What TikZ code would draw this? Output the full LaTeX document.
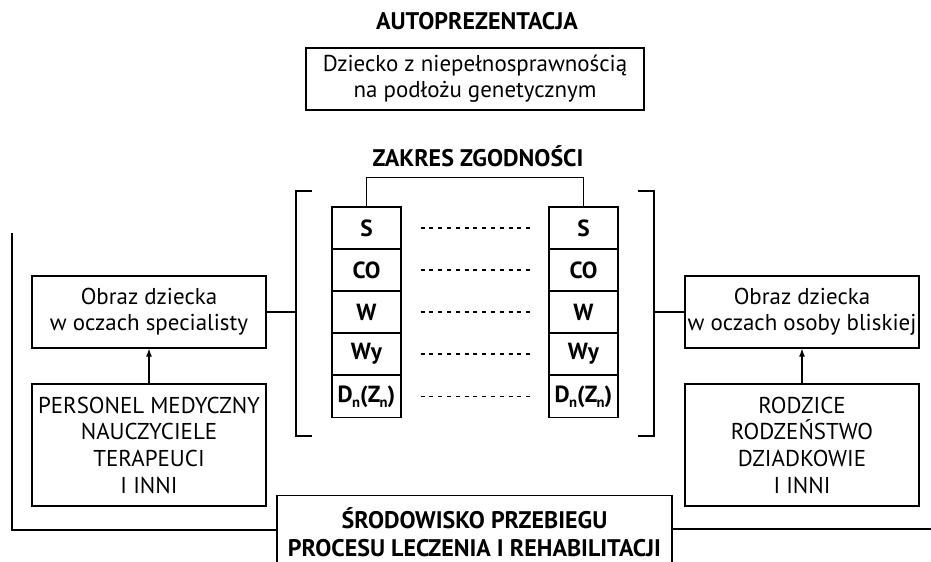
\documentclass[tikz,border=0pt]{standalone}
\usepackage{fontspec}
\setmainfont{PT Sans}
\usetikzlibrary{arrows.meta,calc}
\newcommand{\subn}{\raisebox{-0.45ex}{\fontsize{11pt}{11pt}\selectfont n}}
\begin{document}
\begin{tikzpicture}[x=0.75pt,y=-0.75pt,
  every node/.style={font=\fontsize{17.2pt}{19.6pt}\selectfont, inner sep=0pt, align=center},
  box/.style={draw, line width=0.9pt},
  cell/.style={draw, line width=0.9pt, minimum width=51.75pt, minimum height=31.5pt, font=\fontsize{17.5pt}{20pt}\selectfont\bfseries},
  title/.style={font=\fontsize{18pt}{21pt}\selectfont\bfseries},
  ln/.style={line width=0.9pt},
  dl/.style={line width=0.8pt, dash pattern=on 3pt off 3.6pt, shorten <=14.25pt, shorten >=10.5pt},
  arr/.style={line width=0.9pt, -{Latex[length=6pt,width=4.5pt]}}
]
\useasboundingbox (0,0) rectangle (931,561);
\clip (0,0) rectangle (931,561);

\node[title] (auto) at (477,21) {AUTOPREZENTACJA};
\node[box, minimum width=253.5pt, minimum height=46.5pt] (child) at (475,79) {Dziecko z niepełnosprawnością\\na podłożu genetycznym};
\node[title] (zakres) at (478,156) {ZAKRES ZGODNOŚCI};

% columns
\foreach \i/\t/\y in {1/S/228,2/CO/270,3/W/312,4/Wy/354,5/{D\kern-0.5pt\subn(Z\kern-0.5pt\subn)}/396.5}{
  \node[cell] (L\i) at (366.5,\y) {\t};
  \node[cell] (R\i) at (583.5,\y) {\t};
  \draw[dl] (L\i.east) -- (R\i.west);
}
\draw[ln] (L1.north) -- ++(0,-29) -| (R1.north);

% brackets
\coordinate (lbk) at (296,312);
\coordinate (rbk) at (654,312);
\draw[ln] (312,191) -- (296,191) -- (296,436) -- (312,436);
\draw[ln] (638,191) -- (654,191) -- (654,436) -- (638,436);

% side boxes
\node[box, minimum width=175.5pt, minimum height=54pt] (spec) at (149,312) {Obraz dziecka\\w oczach specialisty};
\node[box, minimum width=175.5pt, minimum height=91.5pt, font=\fontsize{17.2pt}{20pt}\selectfont] (pers) at (149,445) {PERSONEL MEDYCZNY\\NAUCZYCIELE\\TERAPEUCI\\I INNI};
\node[box, minimum width=175.5pt, minimum height=54pt] (blis) at (802,312) {Obraz dziecka\\w oczach osoby bliskiej};
\node[box, minimum width=175.5pt, minimum height=91.5pt, font=\fontsize{17.2pt}{20pt}\selectfont] (rodz) at (802,445) {RODZICE\\RODZEŃSTWO\\DZIADKOWIE\\I INNI};

\draw[ln] (spec.east) -- (lbk);
\draw[ln] (rbk) -- (blis.west);
\draw[arr] (pers.north) -- (spec.south);
\draw[arr] (rodz.north) -- (blis.south);

% environment box
\node[box, minimum width=296.25pt, minimum height=75pt, anchor=north] (env) at (474.5,495) {};
\node[title, font=\fontsize{18pt}{21pt}\selectfont\bfseries] (envt) at (474.5,532) {ŚRODOWISKO PRZEBIEGU\\PROCESU LECZENIA I REHABILITACJI};

\coordinate (topl) at (12,233);
\coordinate (endr) at (931,529);
\draw[ln] (topl) |- ($(env.north west)+(0,35)$);
\draw[ln] ($(env.north east)+(0,34)$) -- (endr);
\end{tikzpicture}
\end{document}
